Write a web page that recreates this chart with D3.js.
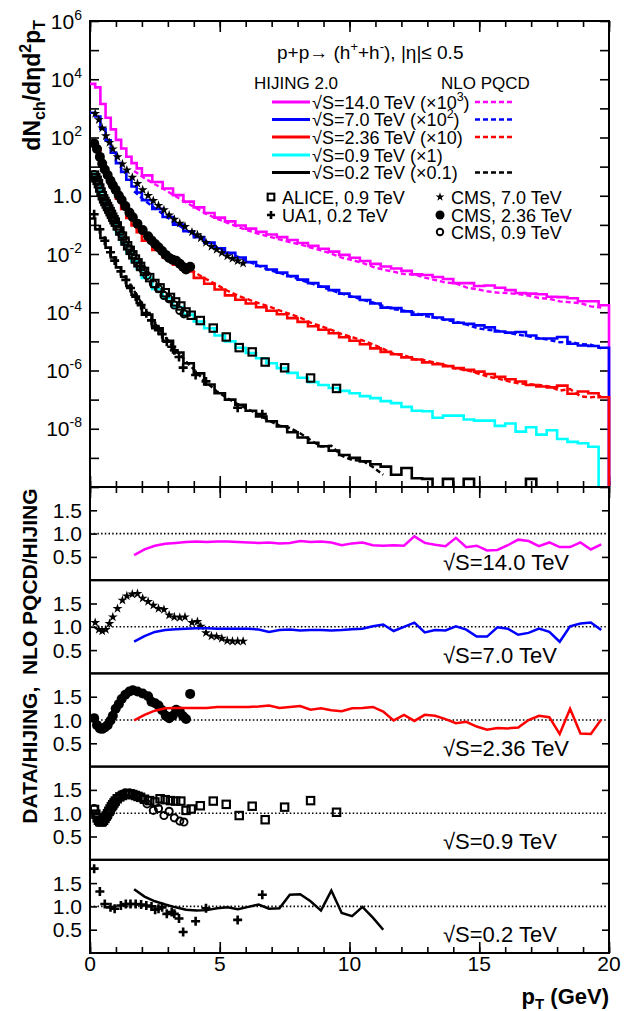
<!DOCTYPE html>
<html><head><meta charset="utf-8">
<script src="https://cdn.jsdelivr.net/npm/d3@7"></script>
<style>
html,body{margin:0;padding:0;background:#fff;}
svg{display:block;font-family:"Liberation Sans",Arial,Helvetica,sans-serif;}
</style></head><body>
<svg id="chart" width="639" height="1011"></svg>
<script>
// ---------- data ----------
// HIJING 2.0 histogram bin edges (GeV)
const ptEdges = [0,0.2,0.4,0.6,0.8,1.0,1.2,1.4,1.6,1.8,2.0,2.4,2.8,3.2,3.6,4.0,4.4,4.8,5.2,5.6,6.0,6.4,6.8,7.2,7.6,8.0,8.4,8.8,9.2,9.6,10.0,10.4,10.8,11.2,11.6,12.0,12.4,12.8,13.2,13.6,14.0,14.4,14.8,15.2,15.6,16.0,16.4,16.8,17.2,17.6,18.0,18.4,18.8,19.2,19.6,20.0];

// log10 of scaled HIJING yields per bin (null = empty bin)
const hij14 = [3.84,3.72,3.15,2.68,2.28,1.92,1.62,1.34,1.12,0.94,0.70,0.47,0.25,0.02,-0.20,-0.40,-0.59,-0.75,-0.88,-1.02,-1.13,-1.24,-1.33,-1.42,-1.52,-1.62,-1.72,-1.82,-1.92,-2.03,-2.13,-2.24,-2.34,-2.43,-2.50,-2.58,-2.70,-2.72,-2.79,-2.86,-3.00,-3.00,-3.10,-3.08,-3.16,-3.24,-3.34,-3.36,-3.38,-3.47,-3.48,-3.52,-3.62,-3.62,-3.76];
const hij7 = [2.85,2.72,2.30,1.90,1.48,1.12,0.82,0.55,0.32,0.11,-0.15,-0.45,-0.73,-0.99,-1.22,-1.42,-1.61,-1.80,-1.96,-2.12,-2.28,-2.41,-2.53,-2.64,-2.76,-2.88,-3.00,-3.12,-3.24,-3.36,-3.47,-3.58,-3.70,-3.84,-3.86,-3.97,-4.08,-4.07,-4.18,-4.25,-4.36,-4.40,-4.45,-4.52,-4.66,-4.70,-4.68,-4.80,-4.90,-4.90,-4.85,-5.08,-5.14,-5.16,-5.22];
const hij236 = [1.85,1.62,1.12,0.72,0.28,-0.10,-0.45,-0.76,-1.02,-1.25,-1.54,-1.86,-2.12,-2.37,-2.60,-2.82,-3.02,-3.22,-3.42,-3.57,-3.70,-3.83,-3.95,-4.07,-4.20,-4.33,-4.48,-4.60,-4.72,-4.86,-4.98,-5.10,-5.24,-5.36,-5.44,-5.55,-5.62,-5.72,-5.78,-5.85,-5.92,-5.98,-6.04,-6.12,-6.22,-6.30,-6.38,-6.50,-6.55,-6.58,-6.52,-6.80,-6.72,-6.78,-6.92];
const hij09 = [0.75,0.55,0.02,-0.42,-0.86,-1.25,-1.62,-1.95,-2.25,-2.50,-2.82,-3.20,-3.52,-3.82,-4.08,-4.32,-4.55,-4.80,-5.00,-5.22,-5.40,-5.58,-5.75,-5.92,-6.08,-6.25,-6.40,-6.50,-6.60,-6.70,-6.78,-6.88,-6.95,-7.05,-7.12,-7.25,-7.38,-7.40,-7.62,-7.55,-7.55,-7.68,-7.72,-7.72,-7.90,-7.82,-8.10,-7.95,-8.20,-8.05,-8.35,-8.45,-8.50,-8.62,null];
const hij02 = [-0.78,-1.15,-1.45,-1.78,-2.12,-2.46,-2.78,-3.10,-3.40,-3.68,-4.08,-4.55,-4.98,-5.38,-5.75,-6.10,-6.48,-6.78,-7.00,-7.18,-7.38,-7.58,-7.74,-7.92,-8.12,-8.30,-8.48,-8.60,-8.75,-8.90,-9.00,-9.12,-9.22,-9.30,-9.58,-9.35,-9.70,-9.72,null,-9.72,null,-9.72,null,null,null,null,null,-9.72,null,null,null,null,null,null,null];

// NLO pQCD / HIJING ratios
const ratioPt = [1.7,2.1,2.5,2.9,3.3,3.7,4.1,4.5,4.9,5.3,5.7,6.1,6.5,6.9,7.3,7.7,8.1,8.5,8.9,9.3,9.7,10.1,10.5,10.9,11.3,11.7,12.1,12.5,12.9,13.3,13.7,14.1,14.5,14.9,15.3,15.7,16.1,16.5,16.9,17.3,17.7,18.1,18.5,18.9,19.3,19.7];
const nlo14 = [0.54,0.66,0.74,0.78,0.80,0.82,0.83,0.82,0.83,0.83,0.82,0.81,0.80,0.81,0.79,0.80,0.84,0.82,0.83,0.81,0.75,0.79,0.81,0.75,0.74,0.75,0.74,0.94,0.80,0.76,0.73,0.91,0.71,0.74,0.64,0.65,0.75,0.87,0.84,0.73,0.81,0.71,0.71,0.81,0.66,0.77];
const nlo7 = [0.68,0.80,0.89,0.93,0.95,0.96,0.97,0.97,0.96,0.96,0.96,0.96,0.94,0.89,0.93,0.94,0.92,0.93,0.93,0.92,0.93,0.95,0.96,1.01,1.05,0.91,1.00,1.09,0.88,0.93,0.92,1.01,0.94,0.79,0.79,0.99,0.96,0.83,0.87,0.96,0.89,0.68,1.01,1.07,1.09,0.93];
const nlo236 = [0.99,1.11,1.20,1.25,1.26,1.26,1.26,1.26,1.28,1.28,1.28,1.28,1.29,1.31,1.26,1.28,1.30,1.22,1.25,1.21,1.19,1.25,1.26,1.28,1.18,0.99,1.11,0.98,1.11,1.09,1.02,0.93,0.96,0.86,0.79,0.83,0.82,0.84,1.00,1.09,1.06,0.70,1.24,0.71,0.70,1.01];
const nlo02 = [1.37,1.21,1.11,1.04,0.98,0.93,0.91,0.92,0.96,0.98,0.94,0.99,1.04,0.95,0.96,1.25,1.26,1.11,0.91,1.34,0.86,0.79,0.99,0.76,0.50];

// measured spectra, as DATA/HIJING
const cms7Pt = [0.20,0.34,0.47,0.61,0.75,0.88,1.06,1.25,1.42,1.63,1.83,2.03,2.24,2.44,2.64,2.85,3.05,3.25,3.46,3.66,3.93,4.14,4.27,4.47,4.68,4.88,5.08,5.29,5.49,5.69,5.90];
const cms7Ratio = [1.09,0.94,0.91,0.94,1.07,1.21,1.39,1.57,1.66,1.70,1.71,1.61,1.54,1.46,1.39,1.37,1.25,1.21,1.20,1.21,1.09,1.11,1.01,0.87,0.80,0.79,0.75,0.70,0.69,0.69,0.69];
const cms236Pt = [0.16,0.27,0.38,0.47,0.57,0.68,0.79,0.88,0.99,1.11,1.22,1.36,1.52,1.65,1.83,2.03,2.24,2.37,2.51,2.64,2.78,2.92,3.05,3.19,3.32,3.46,3.59,3.70,3.86];
const cms236Ratio = [1.04,0.89,0.82,0.81,0.84,0.89,0.99,1.09,1.24,1.34,1.45,1.54,1.61,1.64,1.61,1.57,1.51,1.39,1.36,1.31,1.21,1.09,1.04,1.09,1.22,1.18,1.08,1.02,1.56];
const cms09Pt = [0.16,0.27,0.38,0.47,0.57,0.68,0.79,0.88,0.99,1.11,1.22,1.36,1.52,1.65,1.83,2.03,2.20,2.44,2.64,2.85,3.05,3.25,3.46,3.62];
const cms09Ratio = [1.10,0.92,0.83,0.82,0.86,0.92,1.02,1.12,1.24,1.33,1.40,1.44,1.44,1.42,1.36,1.30,1.20,1.06,1.10,0.95,1.04,0.90,0.83,0.81];
const alicePt = [0.175,0.225,0.275,0.325,0.375,0.425,0.475,0.525,0.575,0.625,0.675,0.725,0.775,0.825,0.875,0.925,0.975,1.05,1.15,1.25,1.35,1.45,1.55,1.65,1.75,1.85,1.95,2.1,2.3,2.5,2.7,2.9,3.1,3.3,3.5,3.7,3.9,4.25,4.75,5.25,5.75,6.25,6.75,7.5,8.5,9.5];
const aliceRatio = [1.08,0.98,0.90,0.85,0.82,0.81,0.82,0.85,0.89,0.94,0.99,1.04,1.09,1.14,1.18,1.22,1.26,1.31,1.35,1.38,1.40,1.41,1.41,1.40,1.38,1.36,1.34,1.30,1.27,1.24,1.31,1.29,1.27,1.26,1.26,1.06,1.09,1.16,1.26,1.19,0.95,1.15,0.86,1.13,1.27,1.02];
const ua1Pt = [0.16,0.38,0.57,0.79,0.95,1.19,1.38,1.56,1.76,1.97,2.17,2.37,2.51,2.64,2.78,2.96,3.15,3.25,3.43,3.59,4.07,4.47,5.69,6.64];
const ua1Ratio = [1.81,1.32,1.05,0.98,0.95,1.02,1.05,1.05,1.05,1.04,1.02,1.00,0.93,0.95,0.98,0.84,0.88,0.84,0.74,0.45,0.68,0.96,0.71,1.25];

// labels
const legendRows = ['√S=14.0 TeV (×10|3|)','√S=7.0 TeV (×10|2|)','√S=2.36 TeV (×10)','√S=0.9 TeV (×1)','√S=0.2 TeV (×0.1)'];
const panelLabels = ['√S=14.0 TeV','√S=7.0 TeV','√S=2.36 TeV','√S=0.9 TeV','√S=0.2 TeV'];
const mainTickExps = [6,4,2,0,-2,-4,-6,-8];
const xTickLabels = [0,5,10,15,20];
const ratioTicks = [0.5,1.0,1.5];

// ---------- layout ----------
const svg = d3.select('#chart');
const X0 = 90, X1 = 609;
const mainTop = 21, mainBot = 487;
const panelH = 93.2;
const FONT = '"Liberation Sans",Arial,Helvetica,sans-serif';

const x = d3.scaleLinear().domain([0,20]).range([X0,X1]);
const y = d3.scaleLog().domain([1e-10,1e6]).range([mainBot,mainTop]);

const colors = {c14:'#ff00ff', c7:'#0000ff', c236:'#ff0000', c09:'#00ffff', c02:'#000000'};

const centers = ptEdges.slice(0,-1).map((e,i)=>(e+ptEdges[i+1])/2);
function histLogAt(arr, pt){
  if (pt <= centers[0]) return arr[0];
  for (let i=0;i<centers.length-1;i++){
    if (pt>=centers[i] && pt<=centers[i+1]){
      const a=arr[i], b=arr[i+1];
      if (a==null) return b; if (b==null) return a;
      const t=(pt-centers[i])/(centers[i+1]-centers[i]);
      return a+(b-a)*t;
    }
  }
  return arr[arr.length-1];
}

function tickAxis(g, axisFn, scale, values, size, tx, ty){
  const a = g.append('g').attr('transform',`translate(${tx},${ty})`)
    .call(axisFn(scale).tickValues(values).tickSize(size).tickFormat(''));
  a.select('.domain').remove();
  a.selectAll('line').attr('stroke','#000').attr('stroke-width',1.6);
}

const minorX = d3.range(0,21,1), majorX = [0,5,10,15,20];

// ---------- main panel frame and axes ----------
const gMain = svg.append('g');
gMain.append('rect').attr('x',X0).attr('y',mainTop).attr('width',X1-X0).attr('height',mainBot-mainTop)
  .attr('fill','none').attr('stroke','#000').attr('stroke-width',2);
const decades = d3.range(-10,7).map(e=>Math.pow(10,e));
tickAxis(gMain, d3.axisLeft, y, decades, -9, X0, 0);
tickAxis(gMain, d3.axisRight, y, decades, -9, X1, 0);
tickAxis(gMain, d3.axisBottom, x, minorX, -6, 0, mainBot);
tickAxis(gMain, d3.axisBottom, x, majorX, -11, 0, mainBot);
tickAxis(gMain, d3.axisTop, x, minorX, -6, 0, mainTop);
tickAxis(gMain, d3.axisTop, x, majorX, -11, 0, mainTop);

mainTickExps.forEach(e=>{
  const t = gMain.append('text').attr('x',82).attr('y',y(Math.pow(10,e))+7.5)
    .attr('text-anchor','end').attr('font-size',21);
  if (e===0) t.text('1.0');
  else {
    t.append('tspan').text('10');
    t.append('tspan').attr('dy',-9).attr('font-size',14).text(e);
  }
});

// y title
const yt = svg.append('text').attr('transform','translate(40,20) rotate(-90)')
  .attr('text-anchor','end').attr('font-size',23).attr('font-weight','bold');
yt.append('tspan').text('dN');
yt.append('tspan').attr('dy',5).attr('font-size',16).text('ch');
yt.append('tspan').attr('dy',-5).text('/dηd');
yt.append('tspan').attr('dy',-9).attr('font-size',16).text('2');
yt.append('tspan').attr('dy',9).text('p');
yt.append('tspan').attr('dy',5).attr('font-size',16).text('T');

// clip for histograms
svg.append('defs').append('clipPath').attr('id','mainClip')
  .append('rect').attr('x',X0).attr('y',mainTop).attr('width',X1-X0+2).attr('height',mainBot-mainTop-1);

const gHist = svg.append('g').attr('clip-path','url(#mainClip)');
const emptyY = mainBot + 4;
const histSeries = [
  {arr:hij14, color:colors.c14},
  {arr:hij7, color:colors.c7},
  {arr:hij236, color:colors.c236},
  {arr:hij09, color:colors.c09},
  {arr:hij02, color:colors.c02}
];
const stepLine = d3.line().x(d=>x(d[0])).y(d=>d[1]);
histSeries.forEach(s=>{
  const pts = [];
  s.arr.forEach((v,i)=>{
    const yy = v==null ? emptyY : y(Math.pow(10,v));
    pts.push([ptEdges[i],yy],[ptEdges[i+1],yy]);
  });
  pts.push([20,emptyY]);
  gHist.append('path').attr('d',stepLine(pts)).attr('fill','none')
    .attr('stroke',s.color).attr('stroke-width',2.6).attr('stroke-linejoin','miter');
});

// NLO pQCD curves (HIJING x ratio)
const nloSeries = [
  {arr:hij14, r:nlo14, color:colors.c14},
  {arr:hij7, r:nlo7, color:colors.c7},
  {arr:hij236, r:nlo236, color:colors.c236},
  {arr:hij02, r:nlo02, color:colors.c02}
];
const valLine = d3.line().x(d=>x(d[0])).y(d=>y(d[1]));
nloSeries.forEach(s=>{
  const pts = s.r.map((r,i)=>[ratioPt[i], Math.pow(10,histLogAt(s.arr, ratioPt[i]))*r]);
  gHist.append('path').attr('d',valLine(pts)).attr('fill','none')
    .attr('stroke',s.color).attr('stroke-width',2.4).attr('stroke-dasharray','5,3');
});

// ---------- markers ----------
function drawMarker(g, kind, px, py, scale=1){
  if (kind==='star'){
    g.append('path').attr('d',d3.symbol().type(d3.symbolStar).size(30*scale*scale)())
      .attr('transform',`translate(${px},${py})`).attr('fill','#000');
  } else if (kind==='disc'){
    g.append('circle').attr('cx',px).attr('cy',py).attr('r',5*scale).attr('fill','#000');
  } else if (kind==='ring'){
    g.append('circle').attr('cx',px).attr('cy',py).attr('r',3.6*scale).attr('fill','none')
      .attr('stroke','#000').attr('stroke-width',1.9);
  } else if (kind==='square'){
    const h=3.7*scale;
    g.append('rect').attr('x',px-h).attr('y',py-h).attr('width',2*h).attr('height',2*h)
      .attr('fill','none').attr('stroke','#000').attr('stroke-width',2.1);
  } else if (kind==='cross'){
    const a=4.5*scale;
    g.append('path').attr('d',`M${px-a},${py}H${px+a}M${px},${py-a}V${py+a}`)
      .attr('stroke','#000').attr('stroke-width',2.6).attr('fill','none');
  }
}

const dataSets = [
  {kind:'cross', pt:ua1Pt, r:ua1Ratio, hist:hij02, panel:4},
  {kind:'square', pt:alicePt, r:aliceRatio, hist:hij09, panel:3},
  {kind:'ring', pt:cms09Pt, r:cms09Ratio, hist:hij09, panel:3},
  {kind:'disc', pt:cms236Pt, r:cms236Ratio, hist:hij236, panel:2},
  {kind:'star', pt:cms7Pt, r:cms7Ratio, hist:hij7, panel:1}
];
const gMarks = svg.append('g');
dataSets.forEach(d=>{
  d.pt.forEach((p,i)=>{
    const v = Math.pow(10,histLogAt(d.hist,p))*d.r[i];
    drawMarker(gMarks, d.kind, x(p), y(v));
  });
});

// ---------- header and legend ----------
const hdr = svg.append('text').attr('x',277).attr('y',59).attr('font-size',19);
hdr.append('tspan').text('p+p→ (h');
hdr.append('tspan').attr('dy',-8).attr('font-size',13).text('+');
hdr.append('tspan').attr('dy',8).text('+h');
hdr.append('tspan').attr('dy',-8).attr('font-size',13).text('-');
hdr.append('tspan').attr('dy',8).text('), |η|≤ 0.5');

svg.append('text').attr('x',254).attr('y',89).attr('font-size',17).text('HIJING 2.0');
svg.append('text').attr('x',441).attr('y',89).attr('font-size',17).text('NLO PQCD');

const rowY = [102,119.5,137,155,172.5];
const rowColors = [colors.c14, colors.c7, colors.c236, colors.c09, colors.c02];
const rowHasNlo = [true,true,true,false,true];
legendRows.forEach((lab,i)=>{
  const yy = rowY[i];
  svg.append('line').attr('x1',272).attr('x2',310).attr('y1',yy).attr('y2',yy)
    .attr('stroke',rowColors[i]).attr('stroke-width',2.8);
  if (rowHasNlo[i]) svg.append('line').attr('x1',475).attr('x2',513).attr('y1',yy).attr('y2',yy)
    .attr('stroke',rowColors[i]).attr('stroke-width',2.6).attr('stroke-dasharray','5,3');
  const t = svg.append('text').attr('x',312).attr('y',yy+6.5).attr('font-size',18);
  const parts = lab.split('|');
  t.append('tspan').text(parts[0]);
  if (parts.length>1){
    t.append('tspan').attr('dy',-8).attr('font-size',12.5).text(parts[1]);
    t.append('tspan').attr('dy',8).text(parts[2]);
  }
});

const markLegend = [
  {kind:'square', x:271, y:197, label:'ALICE, 0.9 TeV'},
  {kind:'cross', x:271, y:215, label:'UA1, 0.2 TeV'},
  {kind:'star', x:440, y:197, label:'CMS, 7.0 TeV'},
  {kind:'disc', x:440, y:215, label:'CMS, 2.36 TeV'},
  {kind:'ring', x:440, y:232, label:'CMS, 0.9 TeV'}
];
markLegend.forEach(m=>{
  drawMarker(svg, m.kind, m.x, m.y, 0.9);
  svg.append('text').attr('x',m.x+11).attr('y',m.y+6.5).attr('font-size',18).text(m.label);
});

// ---------- ratio panels ----------
const panelLines = [
  {pt:ratioPt, r:nlo14, color:colors.c14},
  {pt:ratioPt, r:nlo7, color:colors.c7},
  {pt:ratioPt, r:nlo236, color:colors.c236},
  null,
  {pt:ratioPt.slice(0,nlo02.length), r:nlo02, color:colors.c02}
];
for (let k=0;k<5;k++){
  const top = mainBot + k*panelH, bot = top + panelH;
  const yr = d3.scaleLinear().domain([0,2]).range([bot,top]);
  const g = svg.append('g');
  g.append('rect').attr('x',X0).attr('y',top).attr('width',X1-X0).attr('height',panelH)
    .attr('fill','none').attr('stroke','#000').attr('stroke-width',2);
  tickAxis(g, d3.axisLeft, yr, ratioTicks, -7, X0, 0);
  tickAxis(g, d3.axisRight, yr, [0.5,1.5], -7, X1, 0);
  if (k===0){
    tickAxis(g, d3.axisTop, x, minorX, -6, 0, top);
    tickAxis(g, d3.axisTop, x, majorX, -11, 0, top);
  }
  if (k===4){
    tickAxis(g, d3.axisBottom, x, minorX, -6, 0, bot);
    tickAxis(g, d3.axisBottom, x, majorX, -11, 0, bot);
    xTickLabels.forEach(v=>{
      g.append('text').attr('x',x(v)).attr('y',bot+18).attr('text-anchor','middle')
        .attr('font-size',21).text(v);
    });
  }
  ratioTicks.forEach(v=>{
    g.append('text').attr('x',82).attr('y',yr(v)+7.5).attr('text-anchor','end')
      .attr('font-size',21).text(v.toFixed(1));
  });
  g.append('line').attr('x1',X0).attr('x2',X1).attr('y1',yr(1)).attr('y2',yr(1))
    .attr('stroke','#000').attr('stroke-width',1.6).attr('stroke-dasharray','1.5,2.2');

  dataSets.filter(d=>d.panel===k).forEach(d=>{
    d.pt.forEach((p,i)=>drawMarker(g, d.kind, x(p), yr(d.r[i])));
  });
  const pl = panelLines[k];
  if (pl){
    const ln = d3.line().x((d,i)=>x(pl.pt[i])).y(d=>yr(d));
    g.append('path').attr('d',ln(pl.r)).attr('fill','none')
      .attr('stroke',pl.color).attr('stroke-width',2.5);
  }
  g.append('text').attr('x',443).attr('y',top+82.5).attr('font-size',22).text(panelLabels[k]);
}

// ratio y title
svg.append('text').attr('transform','translate(37,656) rotate(-90)')
  .attr('text-anchor','middle').attr('font-size',21).attr('font-weight','bold')
  .text('DATA/HIJING,  NLO PQCD/HIJING').attr('xml:space','preserve').style('white-space','pre');

// x title
const xt = svg.append('text').attr('x',X1).attr('y',1004).attr('text-anchor','end')
  .attr('font-size',22).attr('font-weight','bold');
xt.append('tspan').text('p');
xt.append('tspan').attr('dy',5).attr('font-size',15).text('T');
xt.append('tspan').attr('dy',-5).style('white-space','pre').text(' (GeV)');
</script></body></html>
